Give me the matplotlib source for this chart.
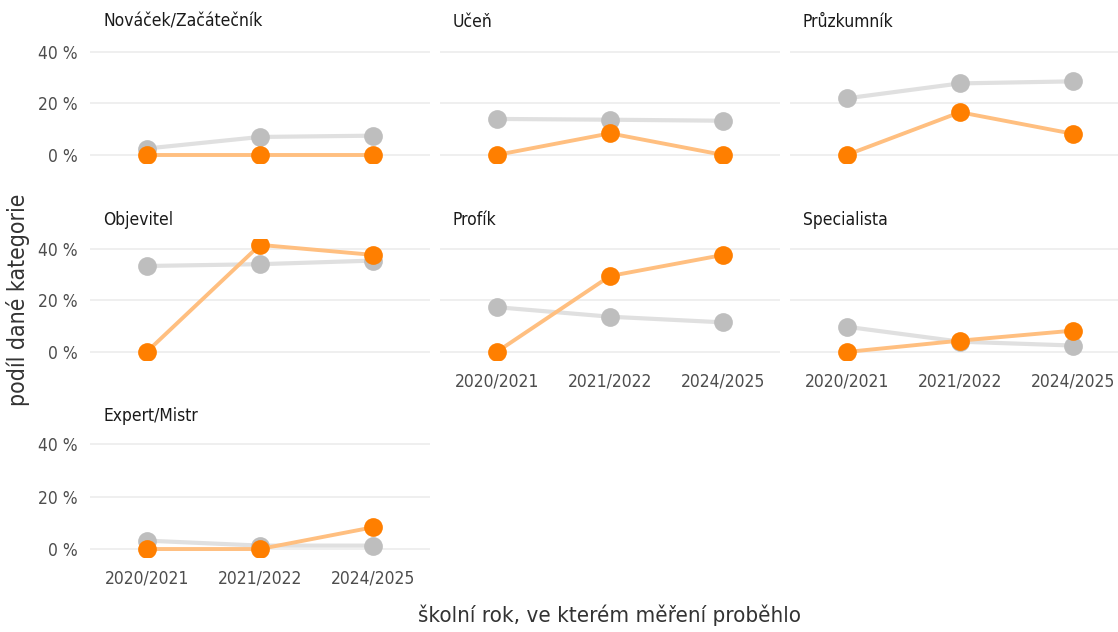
import matplotlib
matplotlib.use("Agg")
import matplotlib.pyplot as plt
import numpy as np

plt.rcParams['font.family'] = ['DejaVu Sans']
plt.rcParams['font.stretch'] = 'condensed'

years = ["2020/2021", "2021/2022", "2024/2025"]
categories = ["Nováček/Začátečník", "Učeň", "Průzkumník",
              "Objevitel", "Profík", "Specialista", "Expert/Mistr"]

# podíl v procentech, šedá = všichni, oranžová = vybraná skupina
grey_vals = [
    [2.5, 7.0, 7.5],
    [14.0, 13.7, 13.3],
    [22.0, 27.8, 28.6],
    [33.4, 34.1, 35.5],
    [17.4, 13.7, 11.5],
    [9.8, 4.0, 2.5],
    [3.2, 1.3, 1.3],
]
orange_vals = [
    [0.0, 0.0, 0.0],
    [0.0, 8.4, 0.0],
    [0.0, 16.6, 8.2],
    [0.0, 41.6, 37.7],
    [0.0, 29.5, 37.7],
    [0.0, 4.4, 8.3],
    [0.0, 0.0, 8.3],
]
y_ticks = [0, 20, 40]
y_ticklabels = ["0 %", "20 %", "40 %"]

W, H = 1118, 632
fig = plt.figure(figsize=(W / 100, H / 100), dpi=100)

col_left = [90, 440, 790]
col_w = 340
# (top, bottom) pixel rows of each panel row
row_px = [(41.7, 162.7), (238.7, 359.7), (433.5, 556.9)]
title_y = [22, 220, 416]

x = np.arange(len(years))
for i, cat in enumerate(categories):
    r, c = divmod(i, 3)
    top, bot = row_px[r]
    ax = fig.add_axes([col_left[c] / W, 1 - bot / H, col_w / W, (bot - top) / H])
    ax.set_xlim(-0.5, 2.5)
    ax.set_ylim(-3, 44)
    for s in ax.spines.values():
        s.set_visible(False)
    ax.set_yticks(y_ticks)
    ax.yaxis.grid(True, color="#EBEBEB", linewidth=1.1)
    ax.set_axisbelow(True)
    ax.tick_params(length=0, labelsize=12.5, labelcolor="#4D4D4D")
    ax.tick_params(axis="x", pad=9)
    ax.tick_params(axis="y", pad=9)
    if c == 0:
        ax.set_yticklabels(y_ticklabels)
    else:
        ax.set_yticklabels([])
    ax.set_xticks(x)
    bottom_row = (r == 2) or (r == 1 and c > 0)
    if bottom_row:
        ax.set_xticklabels(years)
    else:
        ax.set_xticklabels([])
    ax.plot(x, grey_vals[i], color="#E0E0E0", lw=3, zorder=2)
    ax.plot(x, grey_vals[i], "o", color="#BEBEBE", ms=13.5, mec="none", zorder=3)
    ax.plot(x, orange_vals[i], color="#FFBF80", lw=2.8, zorder=4)
    ax.plot(x, orange_vals[i], "o", color="#FF7F00", ms=13.5, mec="none", zorder=5)
    fig.text((col_left[c] + 13) / W, 1 - title_y[r] / H, cat, fontsize=12.5,
             color="#1A1A1A", ha="left", va="center")

fig.text(18 / W, 1 - 300 / H, "podíl dané kategorie", rotation=90, fontsize=16.5,
         color="#333333", ha="center", va="center")
fig.text(609 / W, 1 - 615 / H, "školní rok, ve kterém měření proběhlo", fontsize=16,
         color="#333333", ha="center", va="center")

fig.savefig("out.png", dpi=100)
